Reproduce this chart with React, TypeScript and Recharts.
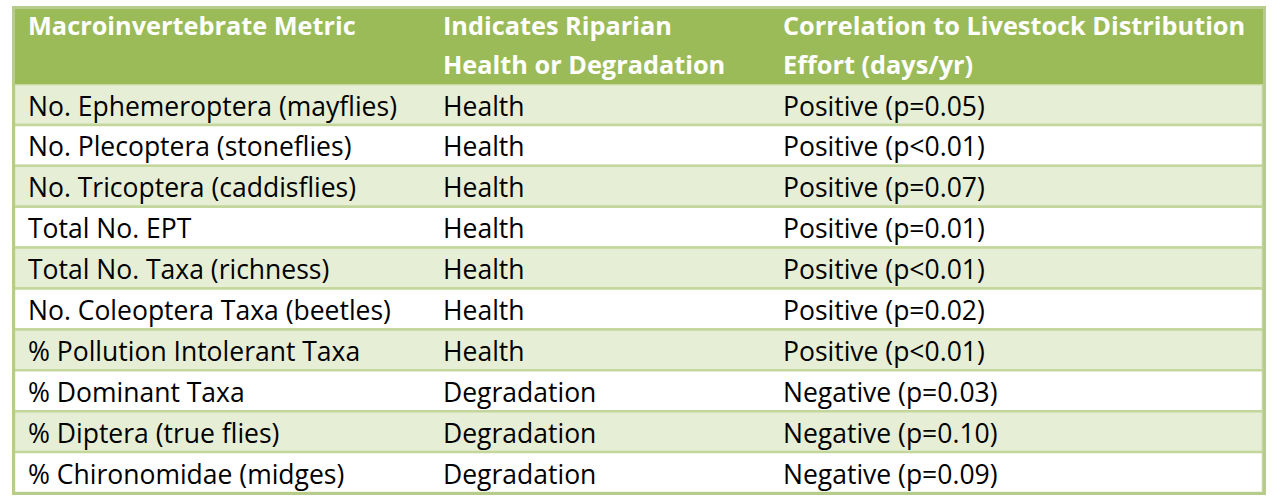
import { BarChart, Bar, XAxis, YAxis, Cell, LabelList } from 'recharts'

// table content
const metrics = [
  'No. Ephemeroptera (mayflies)',
  'No. Plecoptera (stoneflies)',
  'No. Tricoptera (caddisflies)',
  'Total No. EPT',
  'Total No. Taxa (richness)',
  'No. Coleoptera Taxa (beetles)',
  '% Pollution Intolerant Taxa',
  '% Dominant Taxa',
  '% Diptera (true flies)',
  '% Chironomidae (midges)',
]
const indicates = [
  'Health', 'Health', 'Health', 'Health', 'Health', 'Health', 'Health',
  'Degradation', 'Degradation', 'Degradation',
]
const correlations = [
  'Positive (p=0.05)',
  'Positive (p<0.01)',
  'Positive (p=0.07)',
  'Positive (p=0.01)',
  'Positive (p<0.01)',
  'Positive (p=0.02)',
  'Positive (p<0.01)',
  'Negative (p=0.03)',
  'Negative (p=0.10)',
  'Negative (p=0.09)',
]
const headers = [
  ['Macroinvertebrate Metric'],
  ['Indicates Riparian', 'Health or Degradation'],
  ['Correlation to Livestock Distribution', 'Effort (days/yr)'],
]

const rows = metrics.map((metric, i) => ({
  metric,
  indicates: indicates[i],
  correlation: correlations[i],
  band: 1,
}))

const W = 1273
const H = 504
const FONT = '"Open Sans", sans-serif'
const colX = [28, 443, 783]
const GREEN = '#9BBB59'
const LIGHT = '#E6EED6'
const LINE = '#C3D69B'

const cellText = (col: number) => (props: any) => {
  const vb = props.viewBox || {}
  const y = props.y ?? vb.y
  const h = props.height ?? vb.height
  return (
    <text
      x={colX[col]}
      y={y + h / 2 + 11}
      fontFamily={FONT}
      fontSize={26.5}
      fill="#000"
    >
      {props.value}
    </text>
  )
}

export default function App() {
  return (
    <div style={{ position: 'absolute', left: 0, top: 0, width: W, height: H, background: '#fff' }}>
      <BarChart
        width={W}
        height={H}
        data={rows}
        layout="vertical"
        barCategoryGap={0}
        margin={{ top: 84, right: 10, bottom: 11, left: 14 }}
      >
        <XAxis type="number" domain={[0, 1]} hide />
        <YAxis type="category" dataKey="metric" hide />
        <Bar dataKey="band" stroke={LINE} strokeWidth={2.5} isAnimationActive={false}>
          {rows.map((_, i) => (
            <Cell key={i} fill={i % 2 === 0 ? LIGHT : '#fff'} />
          ))}
          <LabelList dataKey="metric" content={cellText(0)} />
          <LabelList dataKey="indicates" content={cellText(1)} />
          <LabelList dataKey="correlation" content={cellText(2)} />
        </Bar>
      </BarChart>

      {/* header band and outer frame */}
      <svg
        width={W}
        height={H}
        style={{ position: 'absolute', left: 0, top: 0, pointerEvents: 'none' }}
      >
        <rect x={14} y={8} width={1249} height={76} fill={GREEN} />
        {headers.map((lines, c) =>
          lines.map((t, k) => (
            <text
              key={`${c}-${k}`}
              x={colX[c]}
              y={35 + k * 39}
              fontFamily={FONT}
              fontSize={25.3}
              fontWeight="bold"
              fill="#fff"
            >
              {t}
            </text>
          ))
        )}
        <rect x={13.5} y={7.5} width={1251} height={486} fill="none" stroke="#B7CC8B" strokeWidth={3} />
      </svg>
    </div>
  )
}
